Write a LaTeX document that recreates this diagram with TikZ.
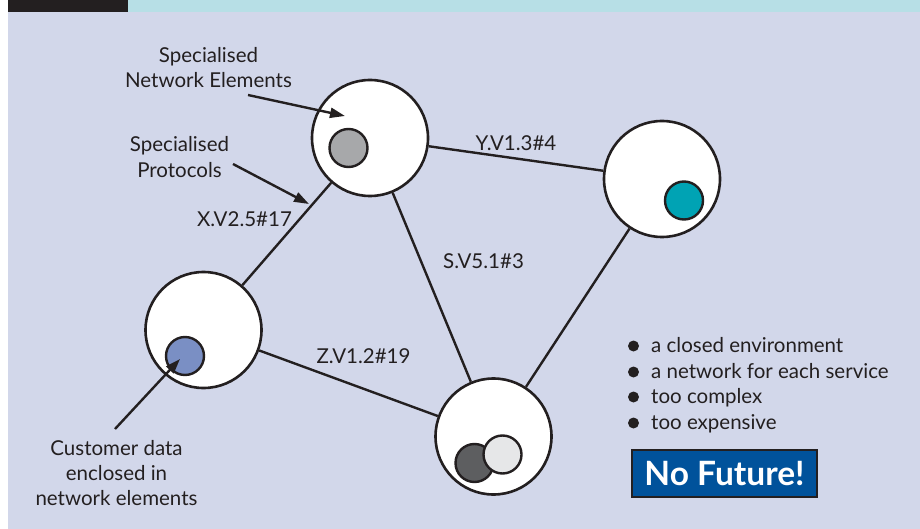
\documentclass[tikz,border=0pt]{standalone}
\usepackage{fontspec}
\setmainfont{Lato}
\usetikzlibrary{arrows.meta}

\definecolor{panel}{HTML}{D2D7EA}
\definecolor{headbar}{HTML}{B7DFE6}
\definecolor{ink}{HTML}{231F20}
\definecolor{coregray}{HTML}{A7A8AA}
\definecolor{coreteal}{HTML}{00A3B4}
\definecolor{coreblue}{HTML}{7A8FC4}
\definecolor{coredark}{HTML}{5D5E60}
\definecolor{corelight}{HTML}{E6E7E8}
\definecolor{alertblue}{HTML}{00529B}

\tikzset{
  element/.style={circle, draw=ink, line width=2.6pt, fill=white,
    minimum size=116pt, inner sep=0pt},
  core/.style={circle, draw=ink, line width=2.4pt,
    minimum size=38pt, inner sep=0pt},
  link/.style={draw=ink, line width=2.4pt},
  pointer/.style={draw=ink, line width=2.4pt,
    -{Triangle[length=15pt,width=10pt]}},
  txt/.style={text=ink, inner sep=0pt, anchor=base,
    font=\fontsize{20.5}{24}\selectfont},
  item/.style={txt, anchor=base west},
  dot/.style={circle, fill=ink, minimum size=11pt, inner sep=0pt},
}

\begin{document}
\begin{tikzpicture}[x=1pt, y=-1pt]
  \useasboundingbox (0,0) rectangle (920,529);
  % page, panel and header strip
  \fill[white] (0,0) rectangle (920,529);
  \fill[panel] (8,12) rectangle (920,529);
  \fill[headbar] (128,0) rectangle (920,12);
  \fill[ink] (8,0) rectangle (128,12);

  % network elements
  \node[element] (A) at (370,138) {};
  \node[element] (B) at (662,179) {};
  \node[element] (C) at (203.5,330) {};
  \node[element] (D) at (493.5,436.5) {};

  % connections between elements
  \draw[link] (A) -- (B);
  \draw[link] (A) -- (C);
  \draw[link] (A) -- (D);
  \draw[link] (B) -- (D);
  \draw[link] (C) -- (D);

  % customer data inside the elements
  \node[core, fill=coregray] (a1) at (348.5,148) {};
  \node[core, fill=coreteal] (b1) at (684,200.5) {};
  \node[core, fill=coreblue] (c1) at (185,356) {};
  \node[core, fill=coredark] (d1) at (474.5,463) {};
  \node[core, fill=corelight] (d2) at (502.5,454.5) {};

  % protocol labels
  \node[txt] (lY) at (516,151) {Y.V1.3\#4};
  \node[txt] (lX) at (244.5,227) {X.V2.5\#17};
  \node[txt] (lS) at (483.5,268) {S.V5.1\#3};
  \node[txt] (lZ) at (363.5,363) {Z.V1.2\#19};

  % annotations
  \node[txt] (ne1) at (208.5,63) {Specialised};
  \node[txt] (ne2) at (208.5,88) {Network Elements};
  \node[txt] (sp1) at (179.5,152) {Specialised};
  \node[txt] (sp2) at (179.5,178) {Protocols};
  \node[txt] (cd1) at (116.5,455) {Customer data};
  \node[txt] (cd2) at (116.5,480) {enclosed in};
  \node[txt] (cd3) at (116.5,505) {network elements};

  \coordinate (neS) at (248,95);
  \coordinate (neT) at (345,116);
  \coordinate (spS) at (233,164);
  \coordinate (spT) at (309,204);
  \coordinate (cdS) at (115,429);
  \coordinate (cdT) at (180,359);
  \draw[pointer] (neS) -- (neT);
  \draw[pointer] (spS) -- (spT);
  \draw[pointer] (cdS) -- (cdT);

  % drawbacks
  \node[dot] (k1) at (633.5,346) {};
  \node[dot] (k2) at (633.5,372) {};
  \node[dot] (k3) at (633.5,397) {};
  \node[dot] (k4) at (633.5,423) {};
  \node[item] (i1) at (651,352) {a closed environment};
  \node[item] (i2) at (651,378) {a network for each service};
  \node[item] (i3) at (651,403) {too complex};
  \node[item] (i4) at (651,429) {too expensive};

  % verdict
  \node[draw=ink, line width=2pt, fill=alertblue, text=white,
    minimum width=185pt, minimum height=47pt, inner sep=0pt,
    font=\fontsize{33.5}{33.5}\selectfont\bfseries] (nf) at (724.5,473.5) {No Future!};
\end{tikzpicture}
\end{document}
